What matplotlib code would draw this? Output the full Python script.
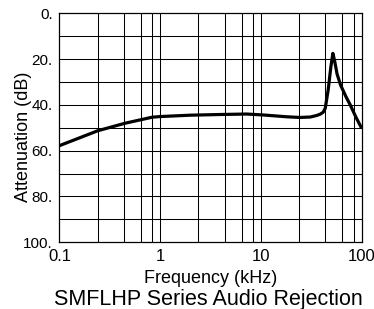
import matplotlib
matplotlib.use("Agg")
import matplotlib.pyplot as plt
from matplotlib.ticker import FixedLocator, NullFormatter

plt.rcParams["font.family"] = ["Liberation Sans", "DejaVu Sans"]

# response curve
freq_khz = [0.1, 0.15, 0.24, 0.45, 0.83, 1.0, 2.0, 4.0, 7.2, 10.5, 18, 24.5,
            31, 36, 39, 41.5, 43.5, 46.5, 49.5, 51.8, 54, 57, 61.7, 70, 77,
            88, 100]
atten_db = [57.8, 54.8, 51.3, 48.0, 45.4, 45.1, 44.5, 44.2, 44.0, 44.4, 45.2,
            45.5, 45.3, 44.6, 44.0, 43.2, 41.5, 33.5, 23.3, 17.5, 21.0, 26.5,
            31.3, 36.5, 40.0, 45.5, 50.2]

x_ticks = [0.1, 1, 10, 100]
x_labels = ["0.1", "1", "10", "100"]
minor_steps = [2.4, 4.35, 6.45, 8.3]   # odd grid spacing of the original
y_ticks = [0, 20, 40, 60, 80, 100]
y_labels = ["0.", "20.", "40.", "60.", "80.", "100."]
y_grid = list(range(10, 100, 10))

fig = plt.figure(figsize=(3.74, 3.09), dpi=100)
ax = fig.add_axes([0.159, 0.216, 0.808, 0.741])

minor_x = [d * s for d in (0.1, 1, 10) for s in minor_steps]
for xv in minor_x + [1, 10]:
    ax.axvline(xv, color="black", lw=0.75, zorder=1)
for yv in y_grid:
    ax.axhline(yv, color="black", lw=0.75, zorder=1)

ax.plot(freq_khz, atten_db, color="black", lw=2.3, zorder=3,
        solid_capstyle="butt")

ax.set_xscale("log")
ax.set_xlim(0.1, 100)
ax.set_ylim(100, 0)
ax.xaxis.set_major_locator(FixedLocator(x_ticks))
ax.set_xticklabels(x_labels)
ax.xaxis.set_minor_locator(FixedLocator(minor_x))
ax.xaxis.set_minor_formatter(NullFormatter())
ax.set_yticks(y_ticks)
ax.set_yticklabels(y_labels)
ax.tick_params(which="both", length=0)
ax.tick_params(axis="y", pad=5, labelsize=11)
ax.tick_params(axis="x", pad=4.5, labelsize=12)

for sp in ax.spines.values():
    sp.set_linewidth(0.9)

fig.text(0.562, 1 - 283 / 309, "Frequency (kHz)", ha="center",
         va="baseline", fontsize=13)
fig.text(0.062, 1 - 137 / 309, "Attenuation (dB)", ha="center",
         va="center", rotation=90, fontsize=13)
fig.text(0.558, 1 - 305.5 / 309, "SMFLHP Series Audio Rejection",
         ha="center", va="baseline", fontsize=15.5)

fig.savefig("out.png", dpi=100)
